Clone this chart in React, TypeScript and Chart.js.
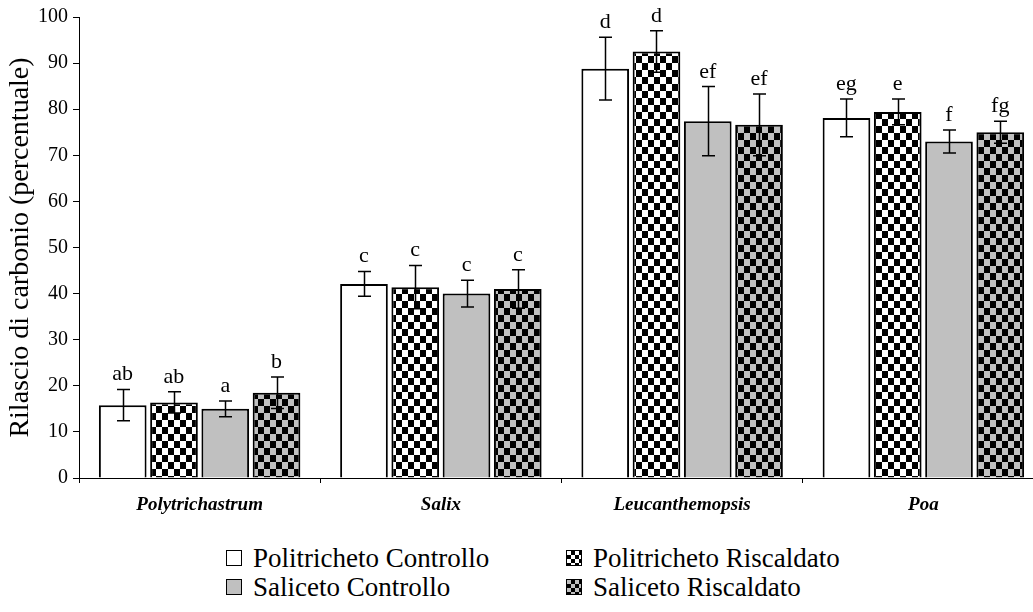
import React, { useEffect, useRef } from "react";
import { Chart, registerables } from "chart.js";

Chart.register(...registerables);

// Species (x categories)
const categories = ["Polytrichastrum", "Salix", "Leucanthemopsis", "Poa"];

// Carbon release (%) per treatment
const politrichetoControllo = [15.8, 42.1, 88.8, 78.1];
const politrichetoRiscaldato = [16.4, 41.4, 92.5, 79.4];
const salicetoControllo = [15.0, 40.0, 77.4, 73.0];
const salicetoRiscaldato = [18.5, 41.0, 76.6, 75.0];

// Standard errors
const politrichetoControlloErr = [3.4, 2.7, 6.8, 4.1];
const politrichetoRiscaldatoErr = [2.3, 4.7, 4.5, 2.8];
const salicetoControlloErr = [1.7, 2.9, 7.5, 2.5];
const salicetoRiscaldatoErr = [3.4, 4.2, 6.7, 2.4];

// Significance letters
const politrichetoControlloSig = ["ab", "c", "d", "eg"];
const politrichetoRiscaldatoSig = ["ab", "c", "d", "e"];
const salicetoControlloSig = ["a", "c", "ef", "f"];
const salicetoRiscaldatoSig = ["b", "c", "ef", "fg"];

const yTicks = [0, 10, 20, 30, 40, 50, 60, 70, 80, 90, 100];

const SERIF = "'Liberation Serif', 'Times New Roman', serif";
const GREY = "#c0c0c0";

function checker(fg: string, bg: string, cw: number, ch: number): CanvasPattern | string {
  const tile = document.createElement("canvas");
  tile.width = cw * 2;
  tile.height = ch * 2;
  const t = tile.getContext("2d");
  if (!t) return bg;
  t.fillStyle = bg;
  t.fillRect(0, 0, cw * 2, ch * 2);
  t.fillStyle = fg;
  t.fillRect(0, 0, cw, ch);
  t.fillRect(cw, ch, cw, ch);
  return t.createPattern(tile, "repeat") || bg;
}

const errorBarsPlugin = {
  id: "errorBarsAndLetters",
  afterDatasetsDraw(chart: any) {
    const { ctx } = chart;
    const y = chart.scales.y;
    ctx.save();
    chart.data.datasets.forEach((ds: any, di: number) => {
      const meta = chart.getDatasetMeta(di);
      meta.data.forEach((bar: any, i: number) => {
        const v = ds.data[i];
        const e = ds.errors[i];
        const x = Math.round(bar.x) + 0.5;
        const yTop = y.getPixelForValue(v + e);
        const yBot = y.getPixelForValue(v - e);
        ctx.strokeStyle = "#000";
        ctx.lineWidth = 1.5;
        ctx.beginPath();
        ctx.moveTo(x, yTop);
        ctx.lineTo(x, yBot);
        ctx.moveTo(x - 6.5, yTop);
        ctx.lineTo(x + 6.5, yTop);
        ctx.moveTo(x - 6.5, yBot);
        ctx.lineTo(x + 6.5, yBot);
        ctx.stroke();

        ctx.fillStyle = "#000";
        ctx.font = `22px ${SERIF}`;
        ctx.textAlign = "center";
        ctx.textBaseline = "alphabetic";
        ctx.fillText(ds.letters[i], bar.x, yTop - 9);
      });
    });
    ctx.restore();
  },
};

const legendItems = [
  { label: "Politricheto Controllo", bg: "#fff", left: 226, top: 550 },
  { label: "Politricheto Riscaldato", bg: "repeating-conic-gradient(#000 0 25%, #fff 0 50%) 0 0 / 8px 8px", left: 566, top: 550 },
  { label: "Saliceto Controllo", bg: GREY, left: 226, top: 579 },
  { label: "Saliceto Riscaldato", bg: `repeating-conic-gradient(#000 0 25%, ${GREY} 0 50%) 0 0 / 8px 8px`, left: 566, top: 579 },
];

export default function App() {
  const canvasRef = useRef<HTMLCanvasElement>(null);

  useEffect(() => {
    const canvas = canvasRef.current;
    if (!canvas) return;
    const chart = new Chart(canvas, {
      type: "bar",
      data: {
        labels: categories,
        datasets: [
          {
            label: "Politricheto Controllo",
            data: politrichetoControllo,
            errors: politrichetoControlloErr,
            letters: politrichetoControlloSig,
            backgroundColor: "#ffffff",
          },
          {
            label: "Politricheto Riscaldato",
            data: politrichetoRiscaldato,
            errors: politrichetoRiscaldatoErr,
            letters: politrichetoRiscaldatoSig,
            backgroundColor: checker("#000", "#fff", 6, 7),
          },
          {
            label: "Saliceto Controllo",
            data: salicetoControllo,
            errors: salicetoControlloErr,
            letters: salicetoControlloSig,
            backgroundColor: GREY,
          },
          {
            label: "Saliceto Riscaldato",
            data: salicetoRiscaldato,
            errors: salicetoRiscaldatoErr,
            letters: salicetoRiscaldatoSig,
            backgroundColor: checker("#000", GREY, 6, 7),
          },
        ].map((d: any) => ({
          ...d,
          borderColor: "#000",
          borderWidth: 2,
          categoryPercentage: 0.85,
          barPercentage: 0.93,
        })),
      },
      options: {
        responsive: false,
        animation: false,
        events: [],
        layout: { padding: { left: 0, right: 2, top: 16, bottom: 0 } },
        plugins: {
          legend: { display: false },
          tooltip: { enabled: false },
        },
        scales: {
          x: {
            offset: true,
            grid: {
              offset: true,
              drawOnChartArea: false,
              drawTicks: true,
              tickLength: 5,
              color: "#000",
            },
            border: { color: "#000", width: 1 },
            ticks: {
              color: "#000",
              padding: 11,
              font: { family: SERIF, size: 19, weight: "bold", style: "italic" },
            },
            afterFit(scale: any) {
              scale.height = 42;
            },
          },
          y: {
            min: 0,
            max: 100,
            afterBuildTicks(scale: any) {
              scale.ticks = yTicks.map((v) => ({ value: v }));
            },
            grid: {
              drawOnChartArea: false,
              drawTicks: true,
              tickLength: 6,
              color: "#000",
            },
            border: { color: "#000", width: 1 },
            ticks: {
              color: "#000",
              padding: 5,
              font: { family: SERIF, size: 20 },
            },
            title: {
              display: true,
              text: "Rilascio di carbonio (percentuale)",
              color: "#000",
              font: { family: SERIF, size: 28 },
              padding: { top: 4, bottom: 0 },
            },
            afterFit(scale: any) {
              scale.width = 79;
            },
          },
        },
      },
      plugins: [errorBarsPlugin],
    } as any);
    return () => chart.destroy();
  }, []);

  return (
    <div
      style={{
        position: "absolute",
        left: 0,
        top: 0,
        width: 1033,
        height: 612,
        overflow: "hidden",
        background: "#fff",
      }}
    >
      <canvas
        ref={canvasRef}
        width={1046}
        height={520}
        style={{ position: "absolute", left: 0, top: 0 }}
      />
      {legendItems.map((it) => (
        <React.Fragment key={it.label}>
          <div
            style={{
              position: "absolute",
              left: it.left,
              top: it.top,
              width: 14,
              height: 14,
              border: "1px solid #000",
              background: it.bg,
            }}
          />
          <div
            style={{
              position: "absolute",
              left: it.left + 27,
              top: it.top - 6,
              fontFamily: SERIF,
              fontSize: 27,
              lineHeight: "29px",
              color: "#000",
              whiteSpace: "nowrap",
            }}
          >
            {it.label}
          </div>
        </React.Fragment>
      ))}
    </div>
  );
}
